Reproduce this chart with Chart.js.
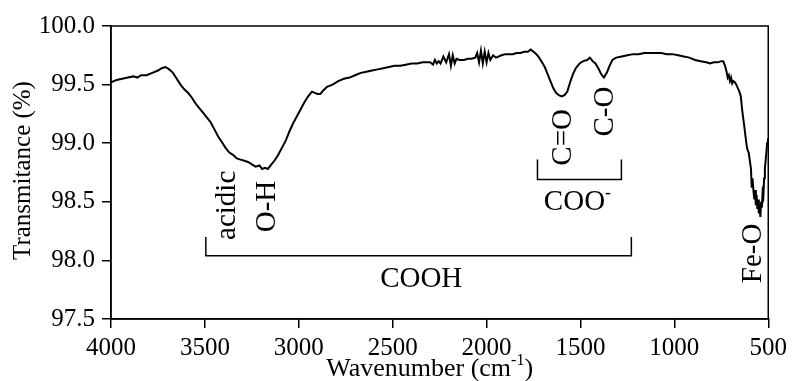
<!DOCTYPE html>
<html>
<head>
<meta charset="utf-8">
<script src="https://cdn.jsdelivr.net/npm/chart.js@4"></script>
<style>
  html, body { margin: 0; padding: 0; background: #fff; }
</style>
</head>
<body>
<canvas id="ftir" width="792" height="381"></canvas>
<script>
// FTIR spectrum, values
const wavenumber = [
  4000, 3970, 3940, 3910, 3880, 3860, 3840, 3810, 3780, 3750, 3730, 3710, 3690, 3670,
  3650, 3630, 3610, 3590, 3570, 3550, 3530, 3510, 3490, 3470, 3450, 3430, 3410, 3390,
  3370, 3350, 3330, 3310, 3290, 3270, 3250, 3230, 3210, 3195, 3180, 3165, 3150, 3130,
  3110, 3090, 3070, 3050, 3030, 3010, 2990, 2970, 2950, 2930, 2915, 2900, 2885, 2870,
  2850, 2820, 2790, 2760, 2730, 2700, 2670, 2640, 2610, 2580, 2550, 2520, 2490, 2460,
  2430, 2400, 2370, 2340, 2300, 2285, 2275, 2265, 2255, 2245, 2230, 2215, 2200, 2190,
  2180, 2170, 2160, 2145, 2120, 2100, 2080, 2060, 2050, 2040, 2030, 2020, 2010, 2000,
  1990, 1980, 1965, 1950, 1920, 1900, 1880, 1860, 1840, 1820, 1800, 1780, 1765, 1750,
  1735, 1720, 1705, 1690, 1675, 1660, 1645, 1630, 1615, 1600, 1585, 1570, 1555, 1540,
  1525, 1505, 1485, 1465, 1450, 1435, 1420, 1405, 1390, 1375, 1360, 1345, 1330, 1310,
  1280, 1250, 1220, 1190, 1160, 1130, 1100, 1070, 1040, 1010, 980, 950, 920, 890,
  860, 830, 810, 790, 770, 750, 740, 730, 722, 716, 710, 704, 698, 692,
  686, 678, 670, 662, 654, 646, 640, 634, 628, 622, 616, 610, 604, 598,
  592, 588, 584, 578, 574, 570, 566, 562, 558, 554, 550, 546, 542, 538,
  534, 530, 526, 522, 518, 514, 510, 506, 502, 500
];
const transmittance = [
  99.52, 99.54, 99.55, 99.56, 99.57, 99.56, 99.58, 99.58, 99.60, 99.62, 99.64, 99.65, 99.63, 99.60,
  99.55, 99.50, 99.46, 99.43, 99.39, 99.34, 99.30, 99.26, 99.22, 99.18, 99.12, 99.06, 99.01, 98.96,
  98.92, 98.90, 98.87, 98.86, 98.85, 98.84, 98.82, 98.80, 98.81, 98.78, 98.79, 98.78, 98.81, 98.85,
  98.90, 98.96, 99.02, 99.10, 99.17, 99.23, 99.29, 99.35, 99.40, 99.44, 99.43, 99.42, 99.42, 99.45,
  99.48, 99.50, 99.53, 99.55, 99.56, 99.58, 99.60, 99.61, 99.62, 99.63, 99.64, 99.65, 99.66, 99.66,
  99.67, 99.68, 99.68, 99.69, 99.69, 99.67, 99.71, 99.68, 99.70, 99.68, 99.74, 99.69, 99.76, 99.66,
  99.75, 99.68, 99.72, 99.71, 99.71, 99.72, 99.72, 99.73, 99.77, 99.69, 99.79, 99.68, 99.78, 99.69,
  99.77, 99.71, 99.75, 99.73, 99.75, 99.76, 99.76, 99.76, 99.77, 99.77, 99.78, 99.78, 99.80, 99.78,
  99.76, 99.73, 99.69, 99.65, 99.59, 99.53, 99.47, 99.43, 99.41, 99.40, 99.41, 99.44, 99.52, 99.59,
  99.64, 99.68, 99.70, 99.71, 99.73, 99.70, 99.68, 99.64, 99.59, 99.56, 99.60, 99.66, 99.71, 99.73,
  99.74, 99.75, 99.76, 99.76, 99.77, 99.77, 99.77, 99.77, 99.76, 99.76, 99.75, 99.74, 99.73, 99.71,
  99.70, 99.69, 99.68, 99.69, 99.69, 99.70, 99.70, 99.66, 99.61, 99.56, 99.58, 99.53, 99.56, 99.51,
  99.53, 99.52, 99.50, 99.47, 99.44, 99.40, 99.30, 99.22, 99.15, 99.07, 98.99, 98.94, 98.92, 98.85,
  98.78, 98.62, 98.70, 98.58, 98.52, 98.60, 98.47, 98.56, 98.44, 98.52, 98.40, 98.48, 98.37, 98.50,
  98.45, 98.58, 98.55, 98.70, 98.78, 98.85, 98.92, 99.00, 99.03, 99.04
];

// brackets under the bands
const coohBracketX = [3495, 3495, 1229, 1229];
const coohBracketY = [98.20, 98.04, 98.04, 98.20];
const cooBracketX = [1729, 1729, 1282, 1282];
const cooBracketY = [98.86, 98.69, 98.69, 98.86];

// rotated band labels (centre of text)
const bandLabels = ['acidic', 'O-H', 'C=O', 'C-O', 'Fe-O'];
const bandLabelX = [3378, 3165, 1590, 1367, 580];
const bandLabelY = [98.47, 98.46, 99.05, 99.27, 98.06];

// group labels (baseline centre), [text, superscript]
const groupLabels = [['COOH', ''], ['COO', '-']];
const groupLabelX = [2348, 1516];
const groupLabelY = [97.77, 98.43];

const SERIF = '"Liberation Serif", "Times New Roman", serif';

function toPoints(xs, ys) {
  return xs.map((x, i) => ({ x: x, y: ys[i] }));
}

// draw text with an optional superscript part, centred at x
function drawRich(ctx, parts, x, y, size) {
  const big = size + 'px ' + SERIF;
  const small = Math.round(size * 0.62) + 'px ' + SERIF;
  let total = 0;
  parts.forEach(p => {
    ctx.font = p[1] ? small : big;
    total += ctx.measureText(p[0]).width;
  });
  let cx = x - total / 2;
  ctx.textAlign = 'left';
  parts.forEach(p => {
    ctx.font = p[1] ? small : big;
    ctx.fillText(p[0], cx, p[1] ? y - size * 0.42 : y);
    cx += ctx.measureText(p[0]).width;
  });
}

const annotations = {
  id: 'annotations',
  afterDraw(chart) {
    const ctx = chart.ctx;
    const area = chart.chartArea;
    const xs = chart.scales.x;
    const ys = chart.scales.y;
    ctx.save();
    // closed frame
    ctx.strokeStyle = '#000';
    ctx.lineWidth = 1.5;
    ctx.strokeRect(area.left, area.top, area.right - area.left, area.bottom - area.top);

    ctx.fillStyle = '#000';
    // rotated band labels
    ctx.font = '29px ' + SERIF;
    ctx.textAlign = 'center';
    ctx.textBaseline = 'middle';
    bandLabels.forEach((t, i) => {
      ctx.save();
      ctx.translate(xs.getPixelForValue(bandLabelX[i]), ys.getPixelForValue(bandLabelY[i]));
      ctx.rotate(-Math.PI / 2);
      ctx.fillText(t, 0, 0);
      ctx.restore();
    });

    // group labels
    ctx.textBaseline = 'alphabetic';
    groupLabels.forEach((g, i) => {
      const parts = [[g[0], false]];
      if (g[1]) parts.push([g[1], true]);
      drawRich(ctx, parts, xs.getPixelForValue(groupLabelX[i]), ys.getPixelForValue(groupLabelY[i]), 29);
    });

    // axis titles
    drawRich(ctx, [['Wavenumber (cm', false], ['-1', true], [')', false]],
      (area.left + area.right) / 2 - 10, 376, 26);

    ctx.save();
    ctx.translate(23, (area.top + area.bottom) / 2 - 2);
    ctx.rotate(-Math.PI / 2);
    ctx.font = '25px ' + SERIF;
    ctx.textAlign = 'center';
    ctx.textBaseline = 'middle';
    ctx.fillText('Transmitance (%)', 0, 0);
    ctx.restore();

    ctx.restore();
  }
};

new Chart(document.getElementById('ftir'), {
  type: 'line',
  data: {
    datasets: [
      {
        data: toPoints(wavenumber, transmittance),
        borderColor: '#000',
        borderWidth: 2,
        pointRadius: 0,
        tension: 0
      },
      {
        data: toPoints(coohBracketX, coohBracketY),
        borderColor: '#000',
        borderWidth: 1.5,
        pointRadius: 0
      },
      {
        data: toPoints(cooBracketX, cooBracketY),
        borderColor: '#000',
        borderWidth: 1.5,
        pointRadius: 0
      }
    ]
  },
  options: {
    responsive: false,
    animation: false,
    layout: { padding: { top: 26, right: 23, left: 0, bottom: 0 } },
    plugins: {
      legend: { display: false },
      tooltip: { enabled: false }
    },
    scales: {
      x: {
        type: 'linear',
        reverse: true,
        min: 500,
        max: 4000,
        afterFit: s => { s.height = 62; },
        ticks: {
          stepSize: 500,
          color: '#000',
          padding: 5,
          maxRotation: 0,
          font: { family: SERIF, size: 25 },
          callback: v => String(v)
        },
        grid: { drawOnChartArea: false, drawTicks: true, tickLength: 9, color: '#000', lineWidth: 1.5 },
        border: { display: true, color: '#000', width: 1.5 }
      },
      y: {
        min: 97.5,
        max: 100,
        afterFit: s => { s.width = 111; },
        ticks: {
          stepSize: 0.5,
          color: '#000',
          padding: 7,
          font: { family: SERIF, size: 25 },
          callback: v => v.toFixed(1)
        },
        grid: { drawOnChartArea: false, drawTicks: true, tickLength: 9, color: '#000', lineWidth: 1.5 },
        border: { display: true, color: '#000', width: 1.5 }
      }
    }
  },
  plugins: [annotations]
});
</script>
</body>
</html>
